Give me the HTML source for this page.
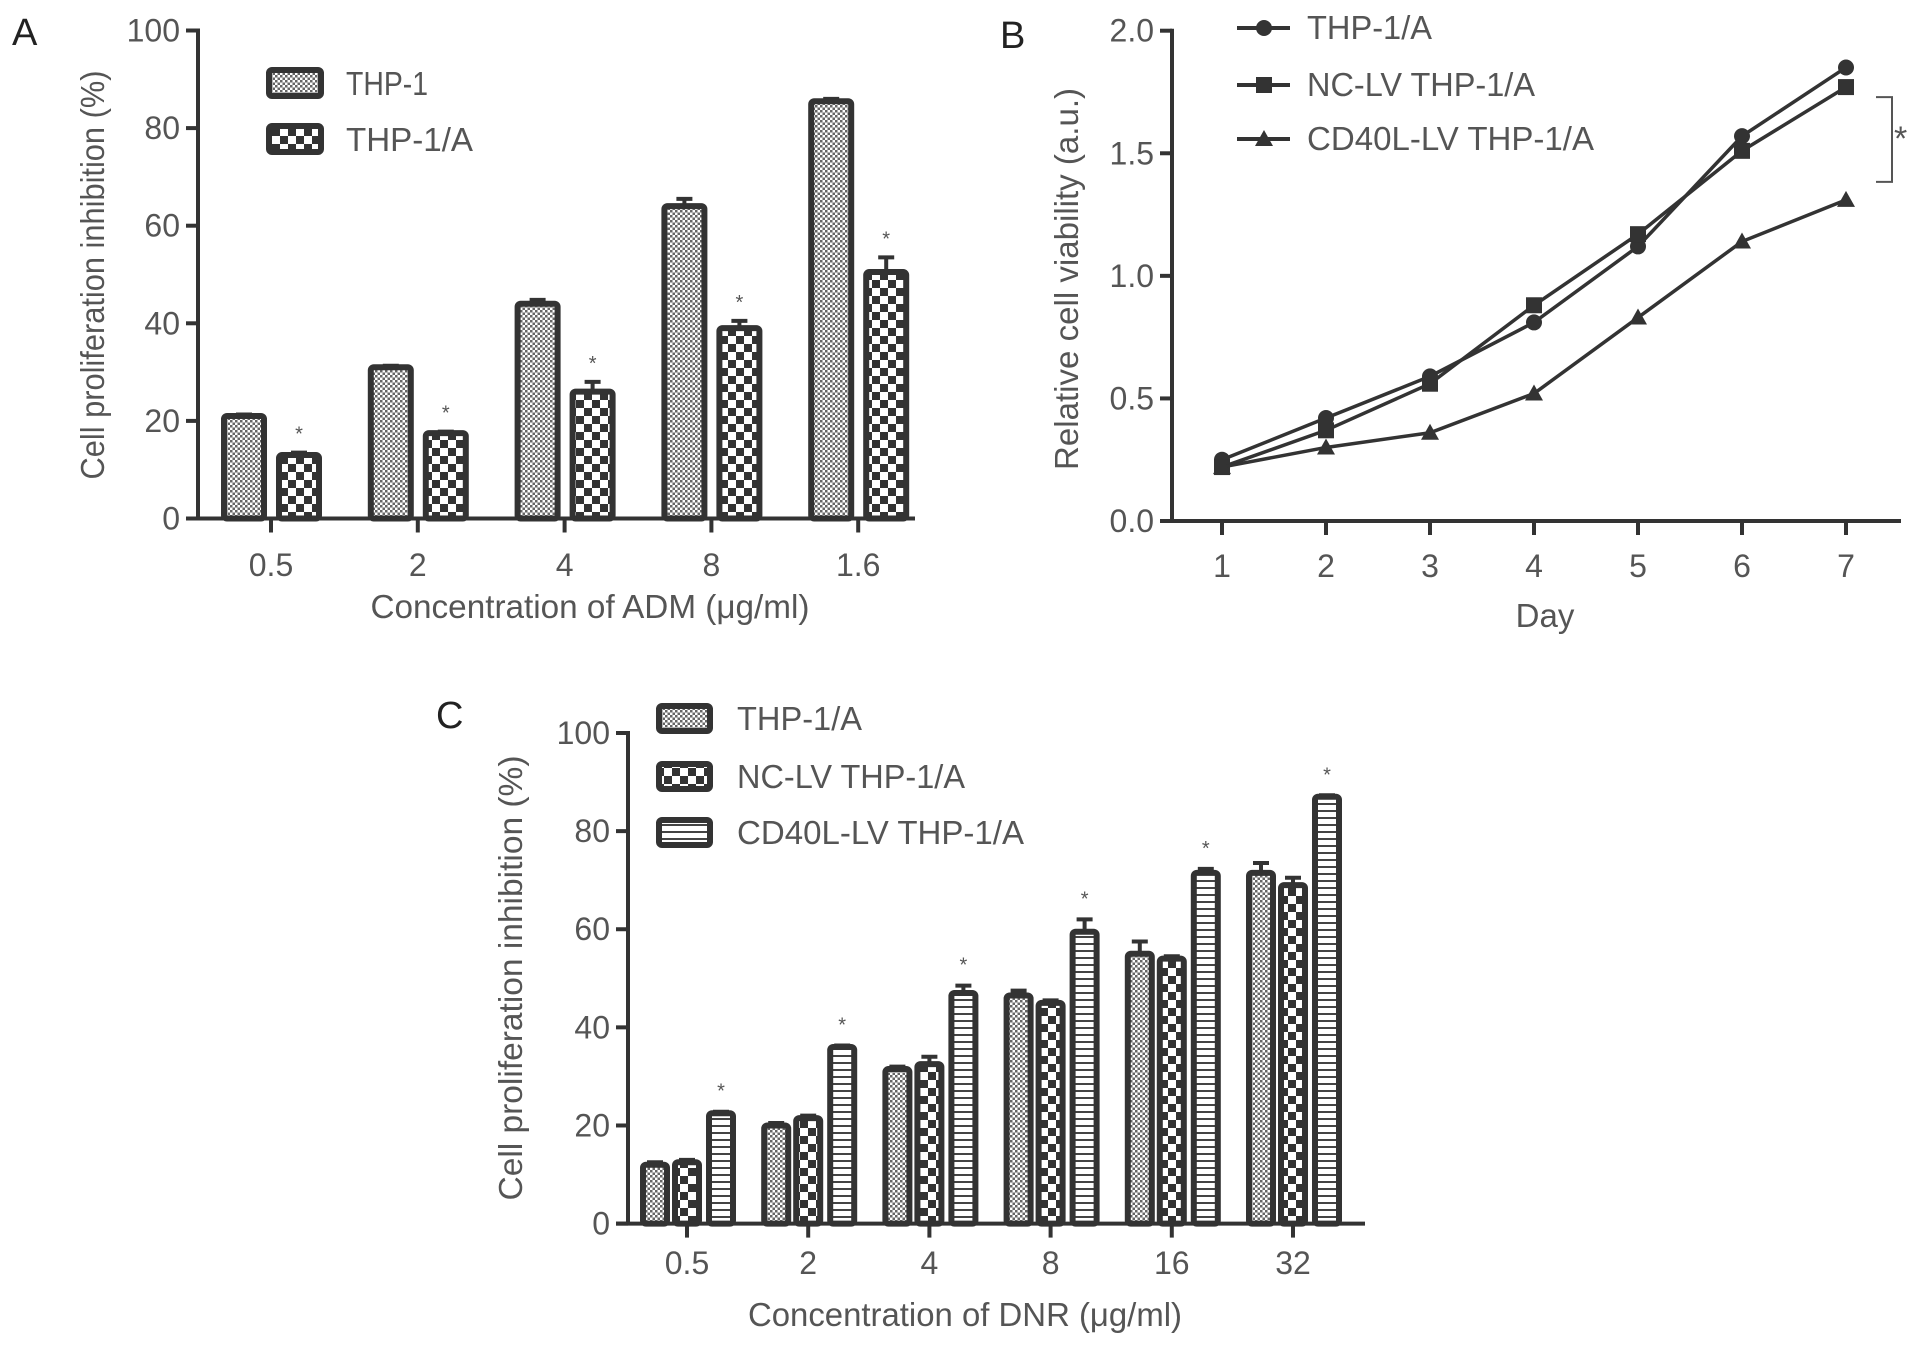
<!DOCTYPE html>
<html><head><meta charset="utf-8"><style>
html,body{margin:0;padding:0;background:#fff;}
svg{display:block;font-family:"Liberation Sans",Arial,sans-serif;}
text{fill:#555;}
</style></head><body>
<svg id="fig" width="1913" height="1347" viewBox="0 0 1913 1347" xmlns="http://www.w3.org/2000/svg">
<defs>
<pattern id="pFine" width="5" height="5" patternUnits="userSpaceOnUse"><rect width="5" height="5" fill="#fff"/><rect width="2.5" height="2.5" fill="#666"/><rect x="2.5" y="2.5" width="2.5" height="2.5" fill="#666"/></pattern>
<pattern id="pCheck" width="16" height="16" patternUnits="userSpaceOnUse"><rect width="16" height="16" fill="#fff"/><rect width="8" height="8" fill="#333"/><rect x="8" y="8" width="8" height="8" fill="#333"/></pattern>
<pattern id="pStripe" width="6" height="7" patternUnits="userSpaceOnUse"><rect width="6" height="7" fill="#fff"/><rect y="5" width="6" height="2" fill="#444"/></pattern>
</defs>
<g id="A"></g>
<g id="B"></g>
<g id="C"></g>
</svg>
<script>
const aCats=["0.5","2","4","8","1.6"];
const aTHP1=[21,31,44,64,85.5];
const aTHP1Err=[0.3,0.3,0.8,1.5,0.5];
const aTHP1A=[13,17.5,26,39,50.5];
const aTHP1AErr=[0.5,0.3,2,1.5,3];
const aTicks=[0,20,40,60,80,100];

const bDays=[1,2,3,4,5,6,7];
const bTHP1A=[0.25,0.42,0.59,0.81,1.12,1.57,1.85];
const bNC=[0.22,0.37,0.56,0.88,1.17,1.51,1.77];
const bCD40L=[0.22,0.30,0.36,0.52,0.83,1.14,1.31];
const bTicks=["0.0","0.5","1.0","1.5","2.0"];

const cCats=["0.5","2","4","8","16","32"];
const cTHP1A=[12,20,31.5,46.5,55,71.5];
const cTHP1AErr=[0.5,0.5,0.5,1,2.5,2];
const cNC=[12.5,21.5,32.5,45,54,69];
const cNCErr=[0.5,0.5,1.5,0.5,0.5,1.5];
const cCD40L=[22.5,36,47,59.5,71.5,87];
const cCD40LErr=[0.3,0.3,1.5,2.5,0.8,0.3];
const cTicks=[0,20,40,60,80,100];

const NS="http://www.w3.org/2000/svg";
function mk(parent,tag,attrs,txt){const e=document.createElementNS(NS,tag);for(const k in attrs)e.setAttribute(k,attrs[k]);if(txt!==undefined)e.textContent=txt;parent.appendChild(e);return e;}
function fit(e,len){e.setAttribute('textLength',len);e.setAttribute('lengthAdjust','spacingAndGlyphs');}
const INK="#333";

function axesFrame(g,x0,x1,y0,y1){
  const ax=mk(g,'line',{x1:x0,y1:y1-2,x2:x0,y2:y0,stroke:INK,'stroke-width':4});
  
  
  const bx=mk(g,'line',{x1:x0-12,y1:y0,x2:x1,y2:y0,stroke:INK,'stroke-width':4});
  
  
}
function bar(g,x,w,yTop,yBase,fill,err,yScaleErr,name){
  if(err>0){
    const e=mk(g,'path',{d:`M${x+w/2},${yTop} V${yScaleErr} M${x+w/2-8},${yScaleErr} H${x+w/2+8}`,stroke:INK,'stroke-width':4,fill:'none'});
    
    
  }
  const r=mk(g,'rect',{x:x,y:yTop,width:w,height:yBase-yTop,fill:fill,stroke:INK,'stroke-width':6,rx:3});
  
  
}
function star(g,x,y){const s=mk(g,'text',{x:x,y:y,'font-size':20,'text-anchor':'middle'},'*');
  
  }

// Panel A
(function(){
  const g=document.getElementById('A');
  const X0=198,X1=915,Y0=518.5,Y1=30.5;
  const y=v=>Y0-(v/100)*(Y0-Y1);
  const xc=i=>271+i*146.8;
  axesFrame(g,X0,X1,Y0,Y1);
  aTicks.forEach(t=>{
    const l=mk(g,'line',{x1:X0-12,y1:y(t),x2:X0,y2:y(t),stroke:INK,'stroke-width':4});
    
    
    const tx=mk(g,'text',{x:X0-18,y:y(t)+11,'font-size':32,'text-anchor':'end'},t);
    
    
  });
  aCats.forEach((c,i)=>{
    const l=mk(g,'line',{x1:xc(i),y1:Y0,x2:xc(i),y2:Y0+14,stroke:INK,'stroke-width':4});
    
    
    const tx=mk(g,'text',{x:xc(i),y:576,'font-size':32,'text-anchor':'middle'},c);
    
    
    bar(g,xc(i)-47,40,y(aTHP1[i]),Y0,'url(#pFine)',aTHP1Err[i],y(aTHP1[i]+aTHP1Err[i]),'bar-thp1-'+i);
    bar(g,xc(i)+8,40,y(aTHP1A[i]),Y0,'url(#pCheck)',aTHP1AErr[i],y(aTHP1A[i]+aTHP1AErr[i]),'bar-thp1a-'+i);
    star(g,xc(i)+28,y(aTHP1A[i]+aTHP1AErr[i])-12);
  });
  const yt=mk(g,'text',{x:0,y:0,'font-size':33,'text-anchor':'middle',transform:'translate(104,275) rotate(-90)'},'Cell proliferation inhibition (%)');
  fit(yt,409);
  
  
  const xt=mk(g,'text',{x:590,y:618,'font-size':33,'text-anchor':'middle'},'Concentration of ADM (\u03bcg/ml)');
  fit(xt,439);
  
  
  const pl=mk(g,'text',{x:12,y:45,'font-size':38,style:'fill:#222'},'A');
  
  
  [['THP-1','url(#pFine)',83,82],['THP-1/A','url(#pCheck)',139,127]].forEach(([n,f,yy,len])=>{
    const r=mk(g,'rect',{x:269,y:yy-13,width:52,height:26,fill:f,stroke:INK,'stroke-width':6,rx:3});
    
    
    const t=mk(g,'text',{x:346,y:yy+12,'font-size':33},n);
    fit(t,len);
    
    
  });
})();

// Panel B
(function(){
  const g=document.getElementById('B');
  const X0=1172,X1=1901,Y0=521,Y1=30.7;
  const y=v=>Y0-(v/2)*(Y0-Y1);
  const x=d=>1222+(d-1)*104;
  axesFrame(g,X0,X1,Y0,Y1);
  bTicks.forEach(t=>{
    const v=parseFloat(t);
    const l=mk(g,'line',{x1:X0-12,y1:y(v),x2:X0,y2:y(v),stroke:INK,'stroke-width':4});
    
    
    const tx=mk(g,'text',{x:X0-18,y:y(v)+11,'font-size':32,'text-anchor':'end'},t);
    
    
  });
  bDays.forEach(d=>{
    const l=mk(g,'line',{x1:x(d),y1:Y0,x2:x(d),y2:Y0+14,stroke:INK,'stroke-width':4});
    
    
    const tx=mk(g,'text',{x:x(d),y:577,'font-size':32,'text-anchor':'middle'},d);
    
    
  });
  function marker(gg,px,py,type){
    let m;
    if(type==='c') m=mk(gg,'circle',{cx:px,cy:py,r:8,fill:INK});
    else if(type==='s') m=mk(gg,'rect',{x:px-8,y:py-8,width:16,height:16,fill:INK});
    else m=mk(gg,'path',{d:`M${px},${py-9} L${px+9},${py+7} L${px-9},${py+7}Z`,fill:INK});
    
    
  }
  [[bTHP1A,'c','series-thp1a'],[bNC,'s','series-nc-lv'],[bCD40L,'t','series-cd40l-lv']].forEach(([vals,type,name])=>{
    const sg=mk(g,'g',{});
    
    
    const pl=mk(sg,'polyline',{points:vals.map((v,i)=>x(bDays[i])+','+y(v)).join(' '),fill:'none',stroke:INK,'stroke-width':3.5});
    
    
    vals.forEach((v,i)=>marker(sg,x(bDays[i]),y(v),type));
  });
  const br=mk(g,'path',{d:`M1876,${y(bNC[6])+10} H1892 V${y(bCD40L[6])-18} H1876`,fill:'none',stroke:'#555','stroke-width':2});
  
  
  const st=mk(g,'text',{x:1894,y:150,'font-size':34},'*');
  
  
  const yt=mk(g,'text',{x:0,y:0,'font-size':33,'text-anchor':'middle',transform:'translate(1078,279) rotate(-90)'},'Relative cell viability (a.u.)');
  fit(yt,382);
  
  
  const xt=mk(g,'text',{x:1545,y:627,'font-size':33,'text-anchor':'middle'},'Day');
  
  
  const pl=mk(g,'text',{x:1000,y:48,'font-size':38,style:'fill:#222'},'B');
  
  
  [['THP-1/A','c',28,125],['NC-LV THP-1/A','s',85,228],['CD40L-LV THP-1/A','t',139,287]].forEach(([n,t,yy,len])=>{
    const l=mk(g,'line',{x1:1237,y1:yy,x2:1290,y2:yy,stroke:INK,'stroke-width':4});
    
    
    marker(g,1264,yy,t);
    const tx=mk(g,'text',{x:1307,y:yy+11,'font-size':33},n);
    fit(tx,len);
    
    
  });
})();

// Panel C
(function(){
  const g=document.getElementById('C');
  const X0=628,X1=1365,Y0=1223.6,Y1=733;
  const y=v=>Y0-(v/100)*(Y0-Y1);
  const xc=i=>687+i*121.2;
  axesFrame(g,X0,X1,Y0,Y1);
  cTicks.forEach(t=>{
    const l=mk(g,'line',{x1:X0-12,y1:y(t),x2:X0,y2:y(t),stroke:INK,'stroke-width':4});
    
    
    const tx=mk(g,'text',{x:X0-18,y:y(t)+11,'font-size':32,'text-anchor':'end'},t);
    
    
  });
  cCats.forEach((c,i)=>{
    const l=mk(g,'line',{x1:xc(i),y1:Y0,x2:xc(i),y2:Y0+14,stroke:INK,'stroke-width':4});
    
    
    const tx=mk(g,'text',{x:xc(i),y:1274,'font-size':32,'text-anchor':'middle'},c);
    
    
    bar(g,xc(i)-44,24,y(cTHP1A[i]),Y0,'url(#pFine)',cTHP1AErr[i],y(cTHP1A[i]+cTHP1AErr[i]),'bar-thp1a-'+i);
    bar(g,xc(i)-12,24,y(cNC[i]),Y0,'url(#pCheck)',cNCErr[i],y(cNC[i]+cNCErr[i]),'bar-nc-lv-'+i);
    bar(g,xc(i)+22,24,y(cCD40L[i]),Y0,'url(#pStripe)',cCD40LErr[i],y(cCD40L[i]+cCD40LErr[i]),'bar-cd40l-lv-'+i);
    star(g,xc(i)+34,y(cCD40L[i]+cCD40LErr[i])-14);
  });
  const yt=mk(g,'text',{x:0,y:0,'font-size':33,'text-anchor':'middle',transform:'translate(522,978) rotate(-90)'},'Cell proliferation inhibition (%)');
  fit(yt,445);
  
  
  const xt=mk(g,'text',{x:965,y:1326,'font-size':33,'text-anchor':'middle'},'Concentration of DNR (\u03bcg/ml)');
  fit(xt,434);
  
  
  const pl=mk(g,'text',{x:436,y:728,'font-size':38,style:'fill:#222'},'C');
  
  
  [['THP-1/A','url(#pFine)',718,125],['NC-LV THP-1/A','url(#pCheck)',776,228],['CD40L-LV THP-1/A','url(#pStripe)',832,287]].forEach(([n,f,yy,len])=>{
    const r=mk(g,'rect',{x:659,y:yy-12,width:51,height:25,fill:f,stroke:INK,'stroke-width':6,rx:3});
    
    
    const t=mk(g,'text',{x:737,y:yy+12,'font-size':33},n);
    fit(t,len);
    
    
  });
})();
</script>
</body></html>
